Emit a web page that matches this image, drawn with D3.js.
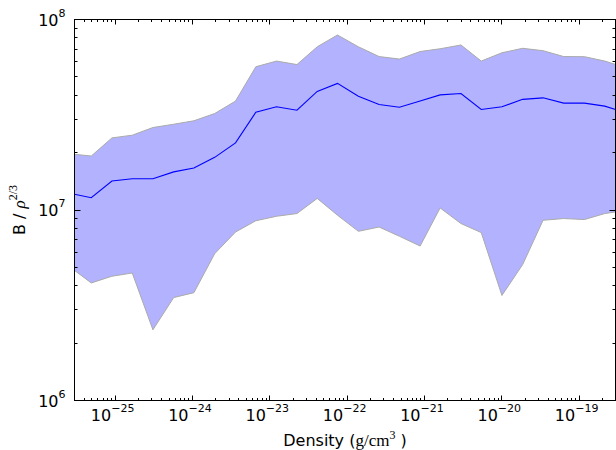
<!DOCTYPE html>
<html>
<head>
<meta charset="utf-8">
<script src="https://cdn.jsdelivr.net/npm/d3@7"></script>
<style>
    html, body { margin: 0; padding: 0; background: #fff; }
    svg { display: block; }
    .tick-label { font-family: "DejaVu Sans", sans-serif; font-size: 16px; fill: #000; }
    .axis-label { font-family: "DejaVu Sans", sans-serif; font-size: 16px; fill: #000; }
    .serif { font-family: "Liberation Serif", "DejaVu Serif", serif; }
</style>
</head>
<body>
<svg id="chart" width="616" height="450"></svg>
<script>
// ======== DATA ========
const density = [
    3.03e-26, 4.99e-26, 9.23e-26, 1.69e-25, 3.13e-25, 5.81e-25, 1.06e-24,
    1.97e-24, 3.66e-24, 6.70e-24, 1.24e-23, 2.28e-23, 4.17e-23, 7.62e-23,
    1.42e-22, 2.63e-22, 4.82e-22, 8.93e-22, 1.62e-21, 3.01e-21, 5.51e-21,
    1.02e-20, 1.89e-20, 3.47e-20, 6.41e-20, 1.19e-19, 2.18e-19, 3.00e-19
];
const upper = [
    1.96e7, 1.92e7, 2.39e7, 2.47e7, 2.71e7, 2.82e7, 2.94e7,
    3.21e7, 3.73e7, 5.65e7, 6.05e7, 5.80e7, 7.19e7, 8.29e7,
    7.19e7, 6.39e7, 6.20e7, 6.79e7, 7.02e7, 7.35e7, 6.05e7,
    6.69e7, 7.06e7, 6.86e7, 6.39e7, 6.38e7, 6.05e7, 5.81e7
];
const median = [
    1.21e7, 1.16e7, 1.42e7, 1.46e7, 1.46e7, 1.585e7, 1.66e7,
    1.89e7, 2.25e7, 3.26e7, 3.48e7, 3.34e7, 4.19e7, 4.62e7,
    3.96e7, 3.58e7, 3.46e7, 3.73e7, 4.02e7, 4.09e7, 3.37e7,
    3.48e7, 3.81e7, 3.88e7, 3.64e7, 3.64e7, 3.51e7, 3.37e7
];
const lower = [
    4.82e6, 4.14e6, 4.49e6, 4.67e6, 2.35e6, 3.47e6, 3.68e6,
    5.90e6, 7.66e6, 8.78e6, 9.27e6, 9.58e6, 1.15e7, 9.39e6,
    7.73e6, 8.14e6, 7.28e6, 6.47e6, 1.025e7, 8.49e6, 7.61e6,
    3.56e6, 5.17e6, 8.83e6, 9.02e6, 8.91e6, 9.58e6, 9.77e6
];
const xMajorExp = [-25, -24, -23, -22, -21, -20, -19];
const yMajorExp = [6, 7, 8];

// ======== LAYOUT ========
const X0 = 74.5, X1 = 615.5, Y0 = 400.5, Y1 = 19.5;

const svg = d3.select('#chart');

const x = d3.scaleLog().domain([density[0], density[density.length - 1]]).range([X0, X1]);
const y = d3.scaleLog().domain([1e6, 1e8]).range([Y0, Y1]);

const rows = density.map((d, i) => ({ d, lo: lower[i], mid: median[i], hi: upper[i] }));

svg.append('clipPath').attr('id', 'clip')
    .append('rect').attr('x', X0).attr('y', Y1).attr('width', X1 - X0).attr('height', Y0 - Y1);

const plot = svg.append('g').attr('clip-path', 'url(#clip)');

// ----- BAND -----
const area = d3.area()
    .x(r => x(r.d))
    .y0(r => y(r.lo))
    .y1(r => y(r.hi));

plot.append('path')
    .attr('d', area(rows))
    .attr('fill', 'rgb(178,178,255)')
    .attr('stroke', '#aaaaaa')
    .attr('stroke-width', 1);

// ----- MEDIAN LINE -----
const line = d3.line().x(r => x(r.d)).y(r => y(r.mid));

plot.append('path')
    .attr('d', line(rows))
    .attr('fill', 'none')
    .attr('stroke', '#0000ff')
    .attr('stroke-width', 1.1);

// ----- TICKS (inward, all four sides) -----
const ticks = svg.append('g').attr('stroke', '#000').attr('stroke-width', 1);

function minorValues(scale, lo, hi) {
    const out = [];
    const [d0, d1] = scale.domain();
    for (let e = lo; e <= hi; e++) {
        for (let k = 2; k <= 9; k++) {
            const v = k * Math.pow(10, e);
            if (v > d0 && v < d1) out.push(v);
        }
    }
    return out;
}

const xMajor = xMajorExp.map(e => Math.pow(10, e));
const yMajor = yMajorExp.map(e => Math.pow(10, e));
const xMinor = minorValues(x, -27, -19);
const yMinor = minorValues(y, 6, 7);

function xTicks(vals, len) {
    vals.forEach(v => {
        const px = Math.round(x(v)) + 0.5;
        ticks.append('line').attr('x1', px).attr('x2', px).attr('y1', Y0).attr('y2', Y0 - len);
        ticks.append('line').attr('x1', px).attr('x2', px).attr('y1', Y1).attr('y2', Y1 + len);
    });
}
function yTicks(vals, len) {
    vals.forEach(v => {
        const py = Math.round(y(v) - 0.5) + 0.5;
        ticks.append('line').attr('x1', X0).attr('x2', X0 + len).attr('y1', py).attr('y2', py);
        ticks.append('line').attr('x1', X1).attr('x2', X1 - len).attr('y1', py).attr('y2', py);
    });
}
xTicks(xMajor, 5);
xTicks(xMinor, 2.5);
yTicks(yMajor, 6);
yTicks(yMinor, 3);

// frame
svg.append('rect')
    .attr('x', X0).attr('y', Y1)
    .attr('width', X1 - X0).attr('height', Y0 - Y1)
    .attr('fill', 'none').attr('stroke', '#000').attr('stroke-width', 1);

// ----- TICK LABELS -----
xMajorExp.forEach(e => {
    const t = svg.append('text').attr('class', 'tick-label')
        .attr('x', x(Math.pow(10, e)) - 2).attr('y', 421)
        .attr('text-anchor', 'middle');
    t.append('tspan').text('10');
    t.append('tspan').attr('dy', -9).attr('font-size', 11).text('\u2212' + (-e));
});

yMajorExp.forEach(e => {
    const t = svg.append('text').attr('class', 'tick-label')
        .attr('x', 65.5).attr('y', y(Math.pow(10, e)) + 6)
        .attr('text-anchor', 'end');
    t.append('tspan').text('10');
    t.append('tspan').attr('dy', -9).attr('font-size', 11).text(e);
});

// ----- AXIS LABELS -----
const xl = svg.append('text').attr('class', 'axis-label')
    .attr('x', (X0 + X1) / 2).attr('y', 446).attr('text-anchor', 'middle');
xl.append('tspan').text('Density (');
xl.append('tspan').attr('class', 'serif').attr('font-size', 17).text('g/cm');
xl.append('tspan').attr('class', 'serif').attr('font-size', 12).attr('dy', -7).text('3');
xl.append('tspan').attr('dy', 7).text('\u00a0)');

const yl = svg.append('text').attr('class', 'axis-label')
    .attr('transform', `translate(25,${(Y0 + Y1) / 2}) rotate(-90)`)
    .attr('text-anchor', 'middle');
yl.append('tspan').text('B / ');
yl.append('tspan').attr('class', 'serif').attr('font-style', 'italic').attr('font-size', 17).text('\u03c1');
yl.append('tspan').attr('class', 'serif').attr('font-size', 12).attr('dy', -8).text('2/3');
</script>
</body>
</html>
